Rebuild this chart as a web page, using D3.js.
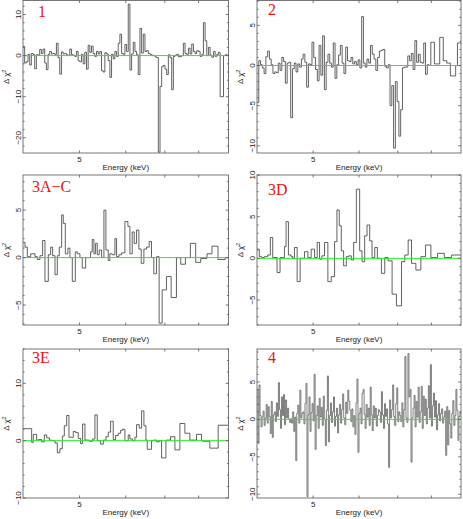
<!DOCTYPE html>
<html>
<head>
<meta charset="utf-8">
<script src="https://cdn.jsdelivr.net/npm/d3@7"></script>
<style>
  body { margin: 0; background: #fff; }
  svg { display: block; }
</style>
</head>
<body>
<svg id="chart" width="463" height="519"></svg>
<script>
// energy axis (keV), log scale, same for every panel
var energyRange = [4, 9];
var xTicks = [5, 6, 7, 8];
var xTickLabels = ["5", "", "", ""];

// panel names
var panelNames = ["1", "2", "3A\u2212C", "3D", "3E", "4"];

// y ranges
var yRanges = [[-23.7, 13.4], [-10.9, 8.1], [-7.1, 8.7], [-8.0, 10.0], [-10.0, 16.0], [-10.5, 9.4]];
var yMajorSteps = [10, 5, 5, 5, 10, 5];
var yMinorSteps = [2, 1, 1, 1, 2, 1];

// panel 1 residuals (fine, even bins)
var p1Values = [2.2, -1.8, -1.5, 0.3, -2.3, 0.5, 0.3, -3.2, 0.2, 0.1,
  1.5, 0.5, 1.6, -1.8, -3.4, 0.3, 1.0, 0.4, 0.5, 0.3,
  3.0, -0.5, -4.5, 0.9, 0.4, 0.5, 0.2, 0.0, 1.6, 0.2,
  0.1, -0.2, 1.0, -1.3, -1.5, 0.3, -2.0, 0.8, -3.3, 2.5,
  0.8, 2.3, 0.5, -0.2, 1.0, 0.4, 1.0, -3.7, -4.0, 0.7,
  0.4, -1.2, -5.3, 0.3, -0.8, 1.0, -0.2, 3.0, 5.2, 0.5,
  0.3, 2.7, 1.0, 12.5, -3.5, 0.4, 3.2, 1.0, 0.2, -4.6,
  6.6, 0.6, 5.2, 1.0, 1.2, 0.5, 0.3, 0.1, 0.0, -0.3,
  -0.5, -23.5, -7.5, -2.7, -2.4, -3.3, -4.6, 0.2, -0.5, -8.3,
  -0.2, 0.1, 0.3, -0.3, -0.2, 0.0, 3.0, 0.5, 0.3, 1.8,
  0.4, 2.8, 1.0, 0.5, 1.2, 1.0, -0.2, 0.3, 8.0, 3.6,
  0.0, 2.0, 0.1, -0.4, 1.0, -0.2, 0.3, 0.8, -10.0, -10.0,
  0.0, 0.2, 0.1];

// panel 2 residuals (fine, even bins)
var p2Values = [-4.6, 0.6, 0.1, -0.3, -1.0, 1.1, 1.8, 0.8, 0.1, -1.0,
  -0.8, -0.9, 0.3, -0.6, 1.0, 0.5, -2.2, 0.3, 0.4, -6.5,
  -0.4, 0.3, -0.8, 0.2, -0.2, 0.8, 1.4, 0.4, -2.7, 0.2,
  0.1, 2.9, 1.0, -0.5, -1.9, 2.5, -1.2, 3.7, -3.0, 0.4,
  1.4, 0.3, -0.2, 2.8, -1.6, 0.1, 1.3, 2.5, 0.3, -1.0,
  2.3, 0.6, 0.5, 1.0, 0.2, 0.5, 0.1, 0.7, -0.3, 6.1,
  0.3, -0.2, 0.8, 0.3, 2.5, 1.4, 0.8, -0.6, 1.0, 1.8,
  1.9, 2.0, -0.1, -0.3, 0.1, -5.0, -2.5, -10.3, -2.0, -4.5,
  -8.8, -5.5, -0.3, -0.2, -0.2, 1.2, 0.6, 1.5, -0.5, 3.1,
  0.4, 1.4, 0.4, 0.3, 2.8, -1.1, 0.1, 0.0, 2.9, 2.9,
  0.2, 0.2, 0.2, 3.5, 3.5, 0.6, 0.6, 0.3, 0.3, -1.3,
  -1.3, -1.3, 0.0, 2.8, 2.8];

// panel 3A-C: bin edges (keV) and residuals
var p3acEdges = [4.000, 4.032, 4.069, 4.123, 4.194, 4.232, 4.277, 4.322, 4.362, 4.420,
  4.461, 4.496, 4.538, 4.580, 4.616, 4.659, 4.689, 4.727, 4.776, 4.814,
  4.859, 4.917, 4.956, 5.008, 5.054, 5.121, 5.223, 5.257, 5.292, 5.327,
  5.362, 5.404, 5.454, 5.505, 5.548, 5.599, 5.636, 5.688, 5.749, 5.786,
  5.840, 5.902, 5.980, 6.051, 6.099, 6.155, 6.204, 6.261, 6.319, 6.377,
  6.445, 6.513, 6.581, 6.642, 6.703, 6.774, 6.845, 6.927, 7.046, 7.177,
  7.329, 7.454, 7.593, 7.743, 7.907, 8.064, 8.268, 8.432, 8.634, 8.887, 9.000];
var p3acValues = [1.6, 1.1, 0.1, 0.4, 0.1, -0.2, 0.2, 1.8, -2.5, 0.3,
  1.1, 0.2, -1.8, 0.2, 1.1, 4.5, 3.6, 0.4, 1.0, 0.0,
  -2.5, 0.6, 0.4, 0.0, -1.1, 0.0, 0.6, 1.9, 0.4, 1.5,
  0.3, 0.8, 0.0, 5.0, 0.8, -0.3, 0.4, 0.3, 2.0, 0.1,
  0.3, 0.5, 3.8, 3.3, 0.4, 2.7, 1.5, 2.9, 0.9, -0.6,
  0.9, 1.1, 1.7, 0.0, -1.7, 0.1, -6.9, -3.4, -2.0, -4.2,
  0.0, -0.7, 0.0, 1.5, -0.5, -0.1, 0.4, 1.2, -0.2, 0.0];

// panel 3D
var p3dEdges = [4.000, 4.037, 4.075, 4.119, 4.174, 4.218, 4.258, 4.332, 4.384, 4.461,
  4.490, 4.532, 4.581, 4.611, 4.642, 4.692, 4.748, 4.831, 4.896, 4.961,
  5.028, 5.081, 5.129, 5.177, 5.232, 5.302, 5.373, 5.445, 5.496, 5.547,
  5.592, 5.644, 5.705, 5.758, 5.819, 5.874, 5.937, 6.016, 6.072, 6.137,
  6.195, 6.261, 6.319, 6.387, 6.455, 6.559, 6.647, 6.736, 6.844, 6.963,
  7.104, 7.199, 7.295, 7.393, 7.522, 7.673, 7.817, 7.985, 8.200, 8.421,
  8.671, 9.000];
var p3dValues = [1.1, 0.2, 0.1, 0.2, 0.4, 2.5, 0.1, -1.7, 0.1, 1.4,
  4.4, 0.4, 0.2, 0.0, 1.3, -2.8, 0.0, 0.8, 0.1, 1.1,
  0.1, 1.9, -0.1, 0.3, 1.9, -2.8, -2.2, 2.0, 5.8, 3.9,
  0.9, -0.9, 0.2, 0.3, -0.2, 1.9, 8.3, 0.9, -0.4, 2.7,
  4.0, 2.1, 0.1, 1.3, 0.0, -1.8, 0.1, -0.3, -4.3, -5.7,
  -0.4, 0.4, 2.2, -0.6, -1.4, 0.2, 1.6, 0.1, 0.6, 0.1,
  0.4];

// panel 3E
var p3eEdges = [4.000, 4.139, 4.166, 4.221, 4.260, 4.306, 4.351, 4.391, 4.438, 4.479,
  4.538, 4.580, 4.628, 4.671, 4.708, 4.752, 4.795, 4.878, 4.923, 4.975,
  5.021, 5.061, 5.108, 5.196, 5.265, 5.313, 5.362, 5.433, 5.491, 5.549,
  5.600, 5.652, 5.711, 5.764, 5.825, 5.879, 5.926, 5.980, 6.059, 6.099,
  6.164, 6.221, 6.262, 6.328, 6.387, 6.446, 6.497, 6.531, 6.643, 6.687,
  6.776, 6.847, 6.911, 7.030, 7.160, 7.284, 7.429, 7.577, 7.727, 7.933,
  8.091, 8.144, 8.361, 8.641, 9.000];
var p3eValues = [2.1, -0.3, 1.1, 0.1, 0.2, -0.2, 1.0, 0.5, 0.1, 0.0,
  -0.4, -2.1, -1.4, 0.8, 2.6, 4.4, 0.6, 1.6, 1.4, 0.4,
  -0.5, 2.9, 0.1, -0.1, 0.3, 4.5, 0.0, -0.6, 0.1, 0.7,
  1.5, 3.4, 0.2, 0.9, 1.3, 1.8, 2.0, 0.0, 1.0, 0.3,
  0.0, 0.6, 2.8, 2.2, 5.2, 2.6, 0.1, -1.5, 0.0, 0.1,
  -0.2, 0.0, -3.0, 0.1, 0.7, -1.6, 3.0, 1.3, 0.1, 1.1,
  0.0, -0.1, -1.3, 2.7];

// panel 4 residuals (very fine, even bins)
var p4Values = [4.0, -3.2, 4.6, 0.5, -1.0, 0.3, 1.1, -0.8, 0.2, 2.0,
  -0.5, 1.7, 0.4, -1.9, 2.4, -2.4, 0.6, 1.0, -0.3, 2.2,
  0.4, 4.9, 1.3, -1.2, 3.0, 0.5, 3.3, -0.7, 2.6, 0.2,
  1.5, 0.0, -0.4, 0.1, -0.5, 1.0, -1.6, 0.3, -5.5, 0.8,
  1.9, -0.5, 3.9, 0.2, 0.8, 1.0, -0.6, 2.1, 4.8, -10.3,
  0.6, 3.0, -1.6, 0.9, 2.1, -0.2, 6.0, -4.0, 0.5, 1.8,
  -1.2, 2.8, 0.3, 1.6, -0.8, 3.1, 0.0, -3.5, 1.2, 5.8,
  -3.0, 0.5, 2.2, -0.4, 1.0, 3.0, -0.9, 0.4, 1.5, -1.8,
  0.6, 2.0, -0.5, 1.3, 3.4, 0.2, -0.7, 2.3, 0.8, 3.9,
  2.4, 1.2, -0.3, 1.4, -1.0, 0.5, -2.0, 2.2, 5.4, -4.4,
  0.8, 1.5, -0.6, 3.5, 4.0, 0.7, -1.2, 2.0, 0.3, 1.5,
  -0.8, 4.3, 0.6, -1.5, 1.8, 0.2, 1.5, -0.9, 0.5, 1.3,
  1.0, -0.4, 3.7, 0.6, -1.2, 2.1, 0.4, 1.4, -0.6, -6.4,
  2.6, 0.2, 1.3, 4.6, 0.4, -0.8, 2.1, 4.2, -0.3, 1.0,
  0.5, -0.3, 2.2, -1.0, 1.3, 8.4, 0.2, -0.4, 8.8, 3.0,
  4.0, -5.7, 0.2, 1.5, 3.2, -1.0, 2.4, 0.3, 4.3, -0.4,
  1.0, 4.4, -1.2, 3.1, 0.5, 2.7, -0.6, 1.5, 4.5, 0.2,
  7.3, -0.9, 1.8, 3.5, 0.3, 2.5, -1.4, 0.6, 2.1, -0.2,
  0.8, 1.4, -0.5, 0.3, 1.1, -4.8, 1.7, -3.4, 1.2, -0.6,
  -2.5, 0.8, 2.5, -0.8, 0.5, 4.0, 1.2, -2.8, 0.4, 1.0];

var panelValues = [p1Values, p2Values, p3acValues, p3dValues, p3eValues, p4Values];
var panelEdges = [null, null, p3acEdges, p3dEdges, p3eEdges, null];

// even log-spaced bins for the fine panels
function evenEdges(n) {
    return d3.range(n + 1).map(function(i) {
        return energyRange[0] * Math.pow(energyRange[1] / energyRange[0], i / n);
    });
}

// frame boxes: [left, top, width, height]
var boxes = [
    [23, 0.5, 205.5, 152.5], [257, 0.5, 204, 152.5],
    [23, 175, 205.5, 150], [257, 175, 204, 150],
    [23, 349, 205.5, 149], [257, 349, 204, 149]
];
// where the red names sit, relative to the frame
var nameOffsets = [[15, 16.5], [11, 14.5], [9, 17], [11, 20], [9, 14], [11, 13.5]];
var lineWidths = [0.8, 0.8, 0.8, 0.8, 0.8, 0.65];

var svg = d3.select("#chart");
var sans = "'Liberation Sans', Helvetica, Arial, sans-serif";

function drawPanel(p) {
    var b = boxes[p];
    var bx = b[0], by = b[1], w = b[2], h = b[3];
    var g = svg.append("g").attr("transform", "translate(" + bx + "," + by + ")");

    var x = d3.scaleLog().domain(energyRange).range([0, w]);
    var y = d3.scaleLinear().domain(yRanges[p]).range([h, 0]);

    // step histogram
    var vals = panelValues[p];
    var edges = panelEdges[p] || evenEdges(vals.length);
    var pts = [];
    vals.forEach(function(v, i) {
        pts.push([edges[i], v]);
        pts.push([edges[i + 1], v]);
    });
    var line = d3.line()
        .x(function(d) { return x(d[0]); })
        .y(function(d) { return y(d[1]); });
    g.append("path")
        .datum(pts)
        .attr("fill", "none")
        .attr("stroke", "#3a3a3a")
        .attr("stroke-width", lineWidths[p])
        .attr("d", line);

    // zero line on top of the data
    g.append("line")
        .attr("x1", 0).attr("x2", w)
        .attr("y1", y(0)).attr("y2", y(0))
        .attr("stroke", "#22ee22").attr("stroke-width", 1);

    // frame
    g.append("rect")
        .attr("x", 0).attr("y", 0).attr("width", w).attr("height", h)
        .attr("fill", "none").attr("stroke", "#555").attr("stroke-width", 0.8);

    // x ticks, bottom and top, pointing in
    xTicks.forEach(function(t, i) {
        var xx = x(t);
        g.append("line").attr("x1", xx).attr("x2", xx).attr("y1", h).attr("y2", h - 2.5)
            .attr("stroke", "#555").attr("stroke-width", 0.8);
        g.append("line").attr("x1", xx).attr("x2", xx).attr("y1", 0).attr("y2", 2.5)
            .attr("stroke", "#555").attr("stroke-width", 0.8);
        if (xTickLabels[i]) {
            g.append("text").attr("x", xx).attr("y", h + 9)
                .attr("text-anchor", "middle")
                .style("font-family", sans).style("font-size", "8px").style("fill", "#222")
                .text(xTickLabels[i]);
        }
    });

    // y ticks, left and right
    var lo = yRanges[p][0], hi = yRanges[p][1];
    var minor = yMinorSteps[p], major = yMajorSteps[p];
    var yt = d3.range(Math.ceil(lo / minor - 1e-9) * minor, hi + 1e-9, minor);
    yt.forEach(function(t) {
        var isMajor = Math.abs(t / major - Math.round(t / major)) < 1e-6;
        var len = isMajor ? 2.8 : 1.6;
        var yy = y(t);
        g.append("line").attr("x1", 0).attr("x2", len).attr("y1", yy).attr("y2", yy)
            .attr("stroke", "#555").attr("stroke-width", 0.8);
        g.append("line").attr("x1", w).attr("x2", w - len).attr("y1", yy).attr("y2", yy)
            .attr("stroke", "#555").attr("stroke-width", 0.8);
        if (isMajor) {
            var r = Math.round(t);
            var lbl = r < 0 ? "\u2212" + Math.abs(r) : String(r);
            g.append("text")
                .attr("transform", "translate(-2," + yy + ") rotate(-90)")
                .attr("text-anchor", "middle")
                .style("font-family", sans).style("font-size", "8px").style("fill", "#222")
                .text(lbl);
        }
    });

    // axis titles
    var yl = g.append("text")
        .attr("transform", "translate(-14.5," + (h / 2) + ") rotate(-90)")
        .attr("text-anchor", "middle")
        .style("font-family", sans).style("font-size", "8px").style("fill", "#222");
    yl.append("tspan").text("\u0394 \u03c7");
    yl.append("tspan").attr("dy", -3).style("font-size", "5.5px").text("2");

    g.append("text").attr("x", w / 2).attr("y", h + 16.5)
        .attr("text-anchor", "middle")
        .style("font-family", sans).style("font-size", "8px").style("fill", "#222")
        .text("Energy (keV)");

    // red panel name
    g.append("text")
        .attr("x", nameOffsets[p][0]).attr("y", nameOffsets[p][1])
        .style("font-family", "'Liberation Serif', 'Times New Roman', serif")
        .style("font-size", "16px").style("fill", "#ee1111")
        .text(panelNames[p]);
}

for (var k = 0; k < 6; k++) drawPanel(k);
</script>
</body>
</html>
